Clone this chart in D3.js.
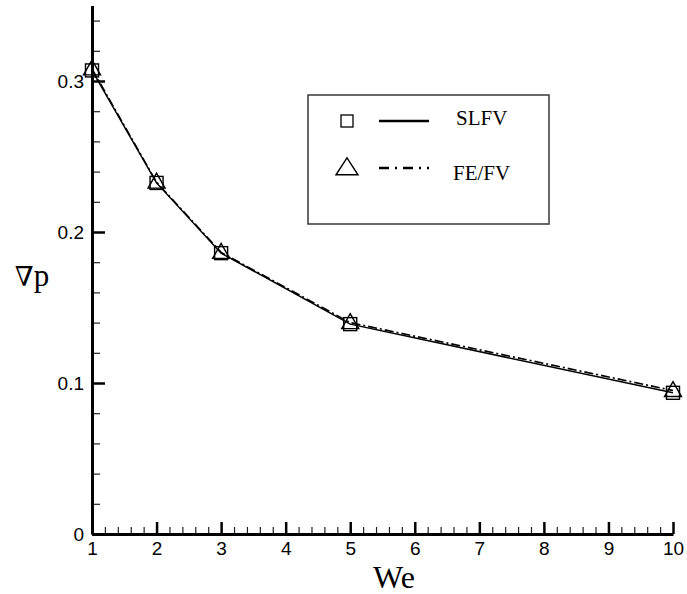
<!DOCTYPE html>
<html>
<head>
<meta charset="utf-8">
<script src="https://cdn.jsdelivr.net/npm/d3@7"></script>
<style>
  body { margin: 0; background: #fff; }
  svg { display: block; }
</style>
</head>
<body>
<div id="chart"></div>
<script>
// values
const we = [1, 2, 3, 5, 10];
const slfv = [0.307, 0.2325, 0.186, 0.139, 0.0935];
const fefv = [0.308, 0.233, 0.1865, 0.14, 0.095];
const xTicks = [1, 2, 3, 4, 5, 6, 7, 8, 9, 10];
const yTicks = [0, 0.1, 0.2, 0.3];
const seriesNames = ["SLFV", "FE/FV"];

let width = 687, height = 594;

const svg = d3.select("#chart")
  .append("svg")
  .attr("width", width)
  .attr("height", height);

let x = d3.scaleLinear().domain([1, 10]).range([92, 673]);
let y = d3.scaleLinear().domain([0, 0.35]).range([534, 5.5]);

const tickFont = "'Liberation Sans', Arial, sans-serif";
const serif = "'Liberation Serif', 'Times New Roman', serif";

// minor ticks (drawn inward)
const xMinor = d3.range(1, 10.001, 0.2).filter(v => Math.abs(v - Math.round(v)) > 1e-6);
const yMinor = d3.range(0, 0.3501, 0.02).filter(v => Math.abs(v * 10 - Math.round(v * 10)) > 1e-6);

svg.append("g")
  .attr("transform", `translate(0,${y(0)})`)
  .call(d3.axisBottom(x).tickValues(xMinor).tickSize(-7).tickSizeOuter(0).tickFormat(""))
  .call(g => g.select(".domain").remove())
  .call(g => g.selectAll("line").attr("stroke", "#222").attr("stroke-width", 1.2));

svg.append("g")
  .attr("transform", `translate(${x(1)},0)`)
  .call(d3.axisLeft(y).tickValues(yMinor).tickSize(-8).tickSizeOuter(0).tickFormat(""))
  .call(g => g.select(".domain").remove())
  .call(g => g.selectAll("line").attr("stroke", "#222").attr("stroke-width", 1.2));

// major ticks + labels
svg.append("g")
  .attr("transform", `translate(0,${y(0)})`)
  .call(d3.axisBottom(x).tickValues(xTicks).tickSize(-12).tickSizeOuter(0).tickPadding(8).tickFormat(d3.format("d")))
  .call(g => g.select(".domain").attr("stroke", "#000").attr("stroke-width", 3))
  .call(g => g.selectAll("line").attr("stroke", "#000").attr("stroke-width", 2.5))
  .call(g => g.selectAll("text").attr("font-family", tickFont).attr("font-size", 19).attr("fill", "#000"));

svg.append("g")
  .attr("transform", `translate(${x(1)},0)`)
  .call(d3.axisLeft(y).tickValues(yTicks).tickSize(-13).tickSizeOuter(0).tickPadding(8).tickFormat(d => d === 0 ? "0" : d3.format(".1f")(d)))
  .call(g => g.select(".domain").attr("stroke", "#000").attr("stroke-width", 3))
  .call(g => g.selectAll("line").attr("stroke", "#000").attr("stroke-width", 2.5))
  .call(g => g.selectAll("text").attr("font-family", tickFont).attr("font-size", 19).attr("fill", "#000"));

// axis titles
svg.append("text")
  .attr("x", 394).attr("y", 588)
  .attr("text-anchor", "middle")
  .attr("font-family", serif).attr("font-size", 32)
  .text("We");

const yTitle = svg.append("text")
  .attr("x", 32).attr("y", 286)
  .attr("text-anchor", "middle")
  .attr("font-family", serif).attr("font-size", 31);
yTitle.append("tspan").attr("font-family", "'DejaVu Serif', serif").attr("font-size", 27).text("∇");
yTitle.append("tspan").text("p");

// lines
const line = d3.line().x(d => x(d[0])).y(d => y(d[1]));
const slfvPts = we.map((w, i) => [w, slfv[i]]);
const fefvPts = we.map((w, i) => [w, fefv[i]]);

svg.append("path")
  .datum(fefvPts)
  .attr("fill", "none").attr("stroke", "#000").attr("stroke-width", 1.6)
  .attr("stroke-dasharray", "9,3,2,3")
  .attr("d", line);

svg.append("path")
  .datum(slfvPts)
  .attr("fill", "none").attr("stroke", "#000").attr("stroke-width", 1.5)
  .attr("d", line);

// markers
const sq = 13;
svg.append("g")
  .selectAll("rect")
  .data(slfvPts)
  .join("rect")
  .attr("x", d => x(d[0]) - sq / 2)
  .attr("y", d => y(d[1]) - sq / 2)
  .attr("width", sq).attr("height", sq)
  .attr("fill", "none").attr("stroke", "#000").attr("stroke-width", 1.4);

const tri = (cx, cy, w, h) => `M${cx},${cy - h * 0.6}L${cx + w / 2},${cy + h * 0.4}L${cx - w / 2},${cy + h * 0.4}Z`;
svg.append("g")
  .selectAll("path")
  .data(fefvPts)
  .join("path")
  .attr("d", d => tri(x(d[0]), y(d[1]), 17, 15))
  .attr("fill", "none").attr("stroke", "#000").attr("stroke-width", 1.4);

// legend
const lg = svg.append("g");
lg.append("rect")
  .attr("x", 308).attr("y", 95).attr("width", 241).attr("height", 129)
  .attr("fill", "none").attr("stroke", "#444").attr("stroke-width", 1.6);

lg.append("rect")
  .attr("x", 341).attr("y", 115).attr("width", 12).attr("height", 12)
  .attr("fill", "none").attr("stroke", "#000").attr("stroke-width", 1.3);
lg.append("line")
  .attr("x1", 379).attr("x2", 429).attr("y1", 121).attr("y2", 121)
  .attr("stroke", "#000").attr("stroke-width", 2.5);
lg.append("text")
  .attr("x", 456).attr("y", 125)
  .attr("font-family", serif).attr("font-size", 21)
  .text(seriesNames[0]);

lg.append("path")
  .attr("d", tri(347, 168, 22, 17))
  .attr("fill", "none").attr("stroke", "#000").attr("stroke-width", 1.4);
lg.append("line")
  .attr("x1", 379).attr("x2", 429).attr("y1", 168).attr("y2", 168)
  .attr("stroke", "#000").attr("stroke-width", 2.5)
  .attr("stroke-dasharray", "10,6,2,6");
lg.append("text")
  .attr("x", 453).attr("y", 180)
  .attr("font-family", serif).attr("font-size", 21)
  .text(seriesNames[1]);
</script>
</body>
</html>
